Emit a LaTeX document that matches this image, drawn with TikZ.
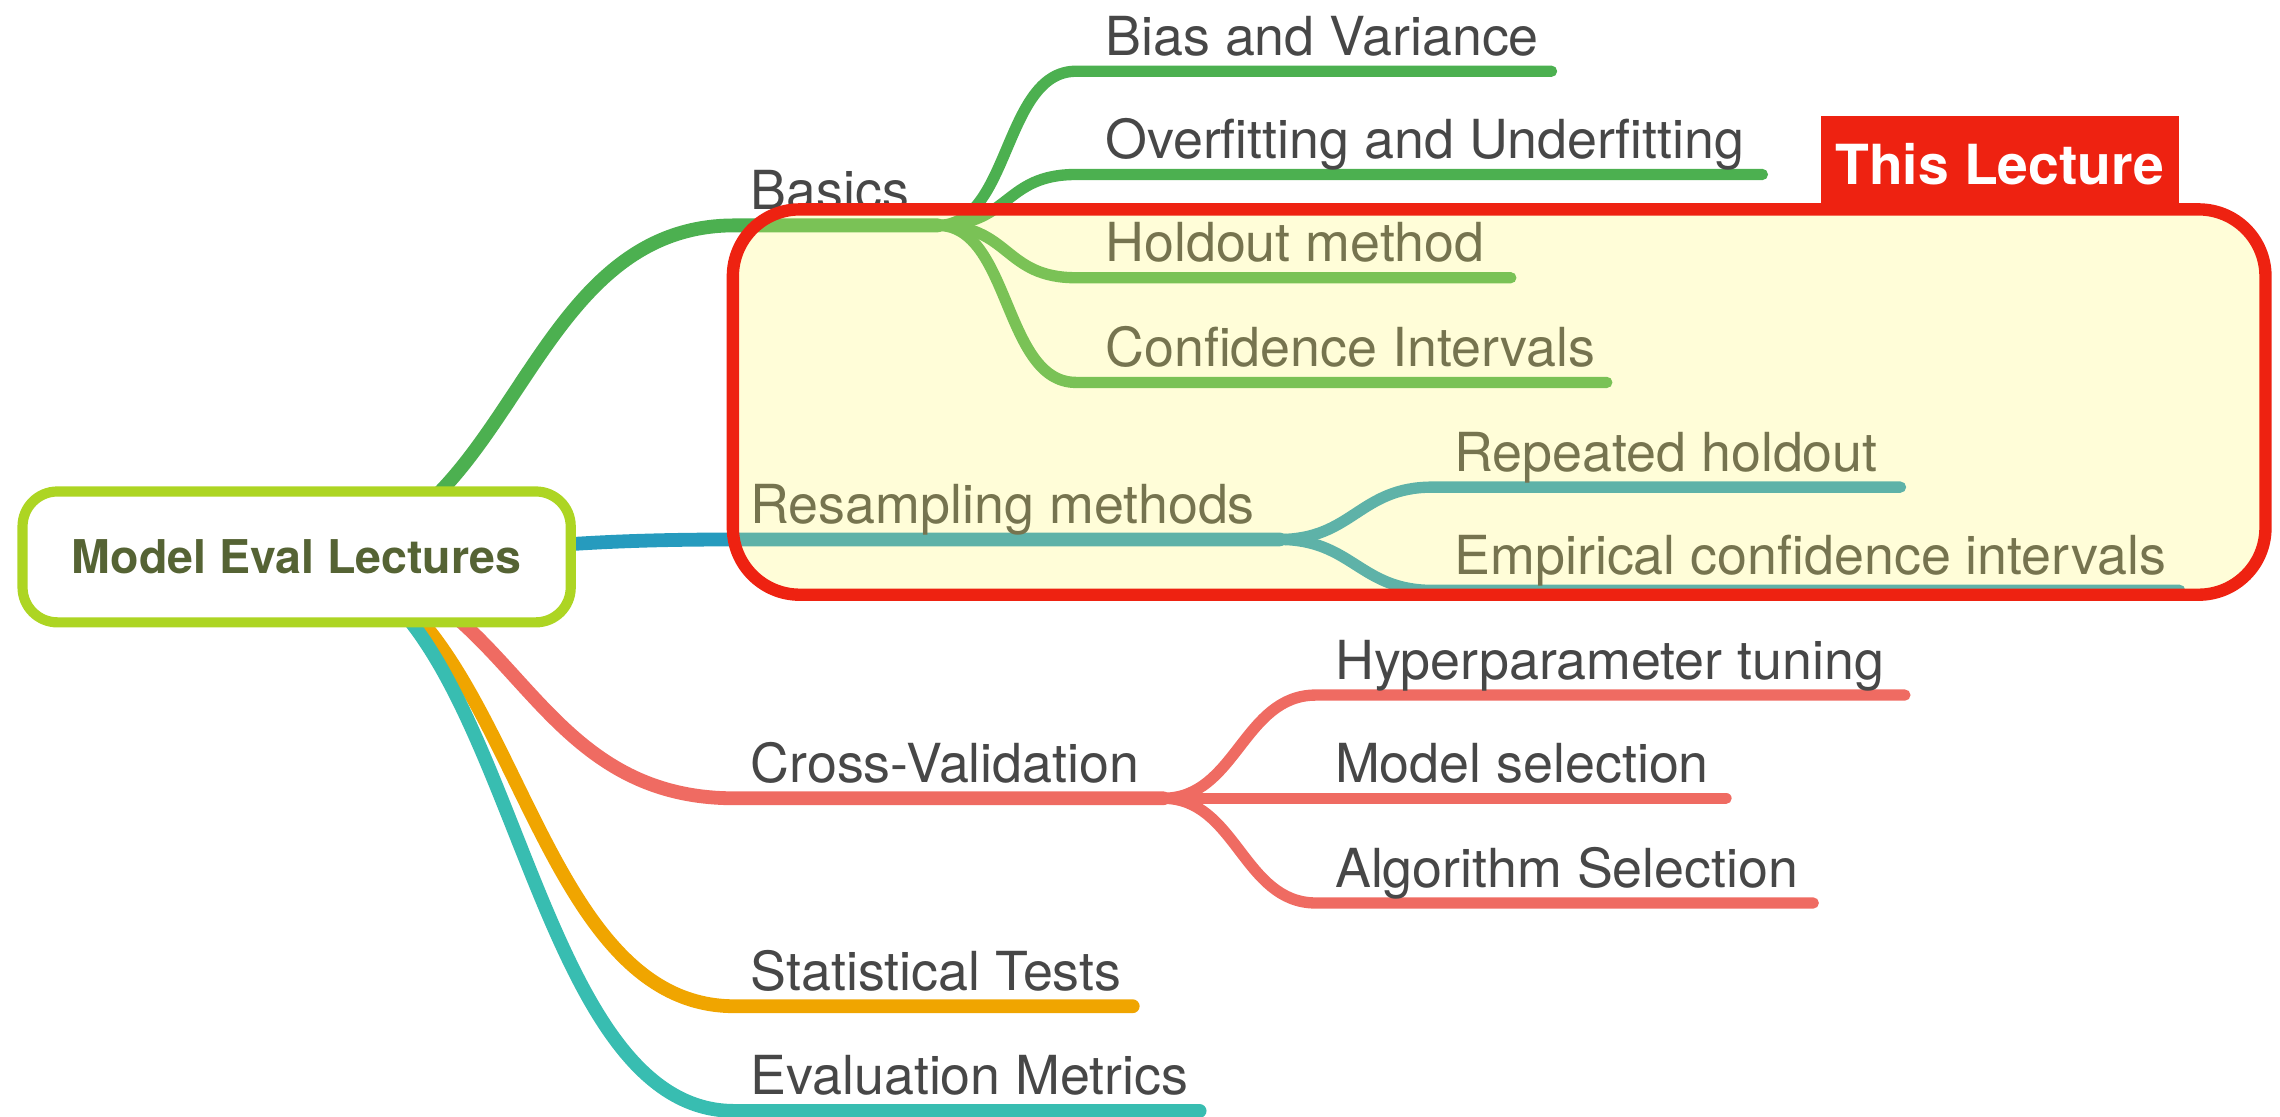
\documentclass[tikz,border=0pt]{standalone}
\usepackage{fontspec}
\setmainfont{TeX Gyre Heros}
\usetikzlibrary{backgrounds}
\definecolor{txt}{RGB}{71,71,71}
\definecolor{rootline}{RGB}{173,213,35}
\definecolor{roottxt}{RGB}{85,99,52}
\definecolor{cbasic}{RGB}{76,176,80}
\definecolor{cresamp}{RGB}{38,155,190}
\definecolor{ccv}{RGB}{239,107,98}
\definecolor{cstat}{RGB}{240,165,0}
\definecolor{ceval}{RGB}{56,189,177}
\definecolor{hl}{RGB}{255,247,105}
\definecolor{hlred}{RGB}{238,34,17}
\begin{document}
\begin{tikzpicture}[x=1pt,y=-1pt,
  lbl/.style={anchor=base west, inner sep=0pt, font=\fontsize{37}{40}\selectfont, text=txt},
  branch/.style={line width=9.5pt, line cap=round},
  twig/.style={line width=7.8pt, line cap=round},
]
\useasboundingbox (0,0) rectangle (1568,768);

% central topic
\node[draw=rootline, line width=7pt, fill=white, rounded corners=24pt,
      minimum width=377pt, minimum height=90pt, inner sep=0pt,
      text=roottxt, font=\bfseries\fontsize{32}{36}\selectfont] (root) at (204,383) {Model Eval Lectures};

% branch end points
\coordinate (bS) at (505,155);  \coordinate (bJ) at (645,155);
\coordinate (rS) at (505,371);  \coordinate (rJ) at (880,371);
\coordinate (cS) at (505,549);  \coordinate (cJ) at (800,549);
\coordinate (sS) at (505,692);  \coordinate (sE) at (779,692);
\coordinate (eS) at (505,764);  \coordinate (eE) at (825,764);

\coordinate (biasS) at (740,49);   \coordinate (biasE) at (1067,49);
\coordinate (overS) at (740,120);  \coordinate (overE) at (1212,120);
\coordinate (holdS) at (740,191);  \coordinate (holdE) at (1039,191);
\coordinate (confS) at (740,263);  \coordinate (confE) at (1105,263);
\coordinate (repS) at (985,335);   \coordinate (repE) at (1307,335);
\coordinate (empS) at (985,406);   \coordinate (empE) at (1499,406);
\coordinate (hypS) at (905,478);   \coordinate (hypE) at (1310,478);
\coordinate (modE) at (1187,549);
\coordinate (algS) at (905,621);   \coordinate (algE) at (1247,621);

% branches
\begin{scope}[on background layer]
  \draw[branch,cbasic]  (root.center) .. controls +(150,0) and +(-150,0) .. (bS) -- (bJ);
  \draw[branch,cresamp] (root.center) .. controls +(150,0) and +(-150,0) .. (rS) -- (rJ);
  \draw[branch,ccv]     (root.center) .. controls +(150,0) and +(-150,0) .. (cS) -- (cJ);
  \draw[branch,cstat]   (root.center) .. controls +(150,0) and +(-150,0) .. (sS) -- (sE);
  \draw[branch,ceval]   (root.center) .. controls +(150,0) and +(-150,0) .. (eS) -- (eE);

  \draw[twig,cbasic] (bJ) .. controls +(50,0) and +(-50,0) .. (biasS) -- (biasE);
  \draw[twig,cbasic] (bJ) .. controls +(50,0) and +(-50,0) .. (overS) -- (overE);
  \draw[twig,cbasic] (bJ) .. controls +(50,0) and +(-50,0) .. (holdS) -- (holdE);
  \draw[twig,cbasic] (bJ) .. controls +(50,0) and +(-50,0) .. (confS) -- (confE);

  \draw[twig,cresamp] (rJ) .. controls +(50,0) and +(-50,0) .. (repS) -- (repE);
  \draw[twig,cresamp] (rJ) .. controls +(50,0) and +(-50,0) .. (empS) -- (empE);

  \draw[twig,ccv] (cJ) .. controls +(50,0) and +(-50,0) .. (hypS) -- (hypE);
  \draw[twig,ccv] (cJ) -- (modE);
  \draw[twig,ccv] (cJ) .. controls +(50,0) and +(-50,0) .. (algS) -- (algE);
\end{scope}

% labels
\node[lbl] (basics) at (516,144) {Basics};
\node[lbl] (resamp) at (516,360) {Resampling methods};
\node[lbl] (cv)     at (516,538) {Cross-Validation};
\node[lbl] (stat)   at (516,681) {Statistical Tests};
\node[lbl] (eval)   at (516,753) {Evaluation Metrics};

\node[lbl] (bias) at (760,38)  {Bias and Variance};
\node[lbl] (over) at (760,109) {Overfitting and Underfitting};
\node[lbl] (hold) at (760,180) {Holdout method};
\node[lbl] (conf) at (760,252) {Confidence Intervals};
\node[lbl] (rep)  at (1000,324) {Repeated holdout};
\node[lbl] (emp)  at (1000,395) {Empirical confidence intervals};
\node[lbl] (hyp)  at (918,467) {Hyperparameter tuning};
\node[lbl] (mod)  at (918,538) {Model selection};
\node[lbl] (alg)  at (918,610) {Algorithm Selection};

% highlighted region
\fill[hl, fill opacity=0.26, rounded corners=46pt] (504,144) rectangle (1558,409);
\draw[hlred, line width=8.5pt, rounded corners=46pt] (504,144) rectangle (1558,409);
\node[fill=hlred, inner sep=0pt, minimum width=246pt, minimum height=66pt,
      anchor=south west, text=white, font=\bfseries\fontsize{38}{40}\selectfont] (tag) at (1252,146) {This Lecture};
\end{tikzpicture}
\end{document}
